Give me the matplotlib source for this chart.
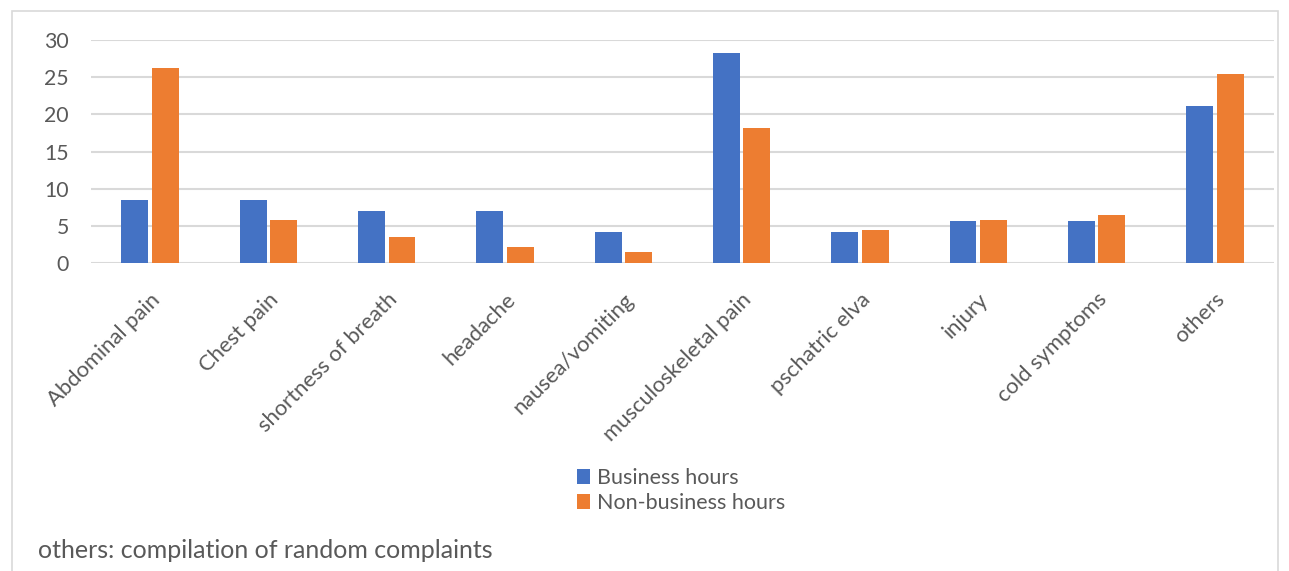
import matplotlib.pyplot as plt
import numpy as np
from matplotlib.patches import Rectangle

categories = ["Abdominal pain", "Chest pain", "shortness of breath", "headache",
              "nausea/vomiting", "musculoskeletal pain", "pschatric elva", "injury",
              "cold symptoms", "others"]
business = [8.5, 8.5, 7.0, 7.0, 4.2, 28.2, 4.2, 5.6, 5.6, 21.1]
non_business = [26.3, 5.8, 3.5, 2.2, 1.5, 18.2, 4.4, 5.8, 6.5, 25.4]
series_names = ["Business hours", "Non-business hours"]
footnote = "others: compilation of random complaints"

plt.rcParams["font.family"] = ["Lato", "DejaVu Sans"]
text_color = "#595959"

fig = plt.figure(figsize=(12.89, 5.71), dpi=100)
ax = fig.add_axes([91 / 1289, 1 - 263 / 571, (1274 - 91) / 1289, (263 - 40) / 571])

# outer chart border
fig.patches.append(Rectangle((12 / 1289, -0.01), (1278 - 12) / 1289, 1 - 11 / 571 + 0.01,
                             transform=fig.transFigure, fill=False,
                             edgecolor="#d9d9d9", linewidth=1.2))

x = np.arange(len(categories))
w = 0.228
gap = 0.03
ax.bar(x - (w + gap) / 2, business, w, color="#4472c4", label=series_names[0], zorder=3)
ax.bar(x + (w + gap) / 2, non_business, w, color="#ed7d31", label=series_names[1], zorder=3)

ax.set_xlim(-0.5, len(categories) - 0.5)
ax.set_ylim(0, 30)
ax.set_yticks(range(0, 31, 5))
ax.yaxis.grid(True, color="#d9d9d9", linewidth=1.5, zorder=0)
ax.set_axisbelow(True)
for s in ax.spines.values():
    s.set_visible(False)
ax.tick_params(length=0, colors=text_color)
ax.tick_params(axis="y", pad=16, labelsize=15.3)
ax.set_xticks(x)
ax.set_xticklabels(categories, rotation=45, ha="right", va="top", rotation_mode="anchor", fontsize=15.8)
ax.tick_params(axis="x", pad=19)

leg = fig.legend(loc="upper left", bbox_to_anchor=(566 / 1289, 1 - 457 / 571), frameon=False,
                 fontsize=15.5, handlelength=0.6, handleheight=0.7, handletextpad=0.35,
                 labelspacing=0.25, borderpad=0)
for t in leg.get_texts():
    t.set_color(text_color)

fig.text(38 / 1289, 1 - 550 / 571, footnote, fontsize=18, color=text_color, va="center")

fig.savefig("out.png", dpi=100)
